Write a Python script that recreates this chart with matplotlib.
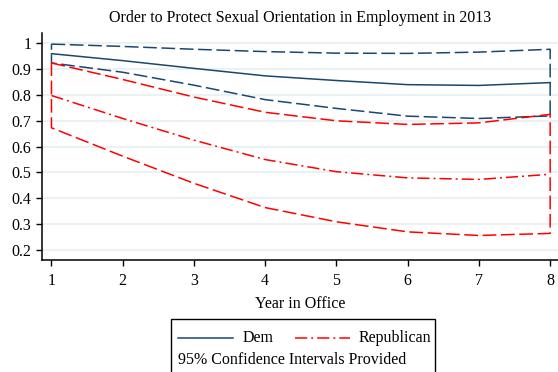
import matplotlib
matplotlib.use("Agg")
import matplotlib.pyplot as plt
from matplotlib.lines import Line2D
from matplotlib.patches import Rectangle

years = [1, 2, 3, 4, 5, 6, 7, 8]
dem_mean = [0.960, 0.933, 0.903, 0.874, 0.856, 0.840, 0.837, 0.848]
dem_upper = [0.997, 0.988, 0.977, 0.968, 0.962, 0.961, 0.966, 0.977]
dem_lower = [0.924, 0.888, 0.838, 0.782, 0.748, 0.718, 0.709, 0.719]
rep_mean = [0.798, 0.709, 0.625, 0.550, 0.503, 0.479, 0.473, 0.493]
rep_upper = [0.924, 0.860, 0.792, 0.733, 0.700, 0.686, 0.692, 0.725]
rep_lower = [0.673, 0.563, 0.458, 0.364, 0.309, 0.270, 0.256, 0.264]
yticks = [0.2, 0.3, 0.4, 0.5, 0.6, 0.7, 0.8, 0.9, 1.0]
ytick_labels = ["0.2", "0.3", "0.4", "0.5", "0.6", "0.7", "0.8", "0.9", "1"]

NAVY = "#1a476f"
RED = "#ff0000"
GRID = "#eaf2f3"
FONT = "Liberation Serif"
FS = 11.5

plt.rcParams["font.family"] = [FONT, "DejaVu Serif"]

fig = plt.figure(figsize=(5.58, 3.72), dpi=100)
ax = fig.add_axes([42 / 558, 1 - 259.5 / 372, 1 - 42 / 558, (259.5 - 33) / 372])

def ci_outline(x, up, lo):
    xs = list(x) + list(x[::-1]) + [x[0]]
    ys = list(up) + list(lo[::-1]) + [up[0]]
    return xs, ys

dash = (0, (9, 3))
dashdot = (0, (8, 2.6, 1.3, 2.6))
xs, ys = ci_outline(years, dem_upper, dem_lower)
ax.plot(xs, ys, color=NAVY, lw=1.1, linestyle=dash, zorder=3)
ax.plot(years, dem_mean, color=NAVY, lw=1.1, linestyle="-", zorder=4)
xs, ys = ci_outline(years, rep_upper, rep_lower)
ax.plot(xs, ys, color=RED, lw=1.1, linestyle=dash, zorder=3)
ax.plot(years, rep_mean, color=RED, lw=1.1, linestyle=dashdot, zorder=4)

ax.set_xlim(0.867, 8.11)
ax.set_ylim(0.163, 1.040)
ax.set_yticks(yticks)
ax.set_yticklabels(ytick_labels)
ax.set_xticks(years)
ax.set_xticklabels([str(y) for y in years])
for y in yticks:
    ax.axhline(y, color=GRID, lw=1.5, zorder=1)

for s in ["top", "right"]:
    ax.spines[s].set_visible(False)
for s in ["left", "bottom"]:
    ax.spines[s].set_linewidth(1.1)
    ax.spines[s].set_color("black")
ax.tick_params(axis="both", direction="out", length=4.5, width=1.0, labelsize=FS, pad=3)
ax.tick_params(axis="x", pad=5)

ax.set_xlabel("Year in Office", fontsize=FS, labelpad=5)
fig.text(300 / 558, 1 - 18 / 372, "Order to Protect Sexual Orientation in Employment in 2013",
         ha="center", va="center", fontsize=FS)

# legend box
lx0, ly0 = 171 / 558, 1 - 380 / 372
lw, lh = (435 - 171) / 558, (380 - 319) / 372
fig.add_artist(Rectangle((lx0, ly0), lw, lh, transform=fig.transFigure,
                         fill=False, edgecolor="black", lw=1.0, clip_on=False))
yl = 1 - 338 / 372
fig.add_artist(Line2D([178 / 558, 233 / 558], [yl, yl], transform=fig.transFigure,
                      color=NAVY, lw=1.1))
fig.text(243 / 558, yl, "Dem", ha="left", va="center", fontsize=FS)
fig.add_artist(Line2D([295 / 558, 350 / 558], [yl, yl], transform=fig.transFigure,
                      color=RED, lw=1.1, linestyle=dashdot))
fig.text(359 / 558, yl, "Republican", ha="left", va="center", fontsize=FS)
fig.text(178 / 558, 1 - 360 / 372, "95% Confidence Intervals Provided",
         ha="left", va="center", fontsize=FS)

fig.savefig("out.png", dpi=100)
